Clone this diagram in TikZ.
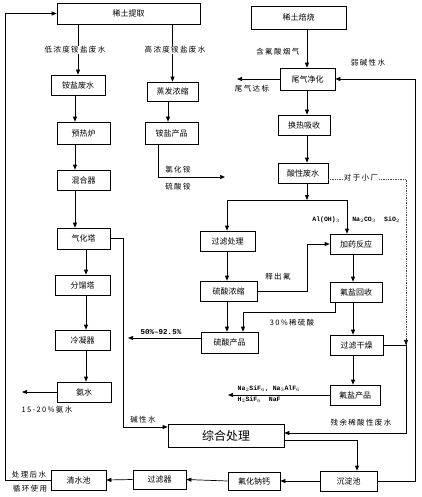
\documentclass[tikz,border=0pt]{standalone}
\usepackage{fontspec}
\newfontfamily\cjk{Noto Sans CJK SC}
\newfontfamily\cjksp[LetterSpace=18]{Noto Sans CJK SC}
\newfontfamily\mono{Liberation Mono}
\usetikzlibrary{arrows.meta}
\begin{document}
\begin{tikzpicture}[x=1pt,y=-1pt,
  pbox/.style 2 args={draw,line width=0.7pt,inner sep=0pt,minimum width=#1pt,minimum height=#2pt,font=\cjk\fontsize{8}{9}\selectfont},
  lab/.style={font=\cjksp\fontsize{7.5}{9}\selectfont,inner sep=0.5pt},
  chem/.style={font=\mono\bfseries\fontsize{6.5}{7}\selectfont,inner sep=0.5pt},
  arr/.style={line width=0.7pt,-{Triangle[length=5pt,width=4pt]}},
  ln/.style={line width=0.7pt},
  dot/.style={line width=0.7pt,densely dotted,black!70}]
\useasboundingbox (0,0) rectangle (421,497);
% nodes
\node[pbox={143}{21}] (tq) at (128.5,13.5) {稀土提取};
\node[pbox={95}{23}] (bs) at (298.5,17.5) {稀土焙烧};
\node[pbox={54}{20}] (afs) at (78,85) {铵盐废水};
\node[pbox={51}{19}] (zf) at (172.5,91.5) {蒸发浓缩};
\node[pbox={53}{22}] (yr) at (83.5,133) {预热炉};
\node[pbox={53}{22}] (acp) at (171.5,133) {铵盐产品};
\node[pbox={53}{20}] (hh) at (83.5,180) {混合器};
\node[pbox={53}{21}] (qh) at (83.5,238.5) {气化塔};
\node[pbox={55}{20}] (fl) at (82.5,285) {分馏塔};
\node[pbox={55}{20}] (lnq) at (82.5,340) {冷凝器};
\node[pbox={54}{20}] (as) at (84,392) {氨水};
\node[pbox={55}{22}] (wq) at (307.5,79) {尾气净化};
\node[pbox={52}{20}] (hr) at (304,125) {换热吸收};
\node[pbox={50}{20}] (sx) at (303,173) {酸性废水};
\node[pbox={55}{20}] (gl) at (227.5,241) {过滤处理};
\node[pbox={52}{20}] (jy) at (356,244) {加药反应};
\node[pbox={57}{20}] (ls) at (228.5,291) {硫酸浓缩};
\node[pbox={52}{20}] (fh) at (356,292) {氟盐回收};
\node[pbox={57}{21}] (lc) at (229.5,342.5) {硫酸产品};
\node[pbox={53}{20}] (gz) at (356.5,345) {过滤干燥};
\node[pbox={50}{20}] (fc) at (355,395) {氟盐产品};
\node[pbox={116}{23},font=\cjk\fontsize{12}{13}\selectfont] (zh) at (226,435.5) {综合处理};
\node[pbox={57}{20}] (cd) at (348.5,481) {沉淀池};
\node[pbox={52}{18}] (th) at (254,481) {氟化钠钙};
\node[pbox={53}{19}] (glq) at (159.5,479.5) {过滤器};
\node[pbox={55}{20}] (qs) at (78.5,480) {清水池};
% helper coordinates
\coordinate (xL1) at (75,0);
\coordinate (xL2) at (86,0);
\coordinate (xA) at (123,0);
\coordinate (xM) at (168,0);
\coordinate (xN) at (158,0);
\coordinate (xR) at (307,0);
\coordinate (xB1) at (227,0);
\coordinate (xB2) at (347,0);
\coordinate (xJ) at (353,0);
\coordinate (xF) at (335,0);
\coordinate (xS) at (243,0);
\coordinate (xD) at (406,0);
\coordinate (xO) at (415,0);
\coordinate (xC) at (357,0);
\coordinate (xE) at (5,0);
\coordinate (yK) at (0,312);
\coordinate (rw) at (0,433);
\coordinate (zo) at (0,440);
\coordinate (jn) at (307,200);
\coordinate (asE) at (22,392);
\coordinate (acpE) at (225,177);
\coordinate (wqE) at (237,79);
\coordinate (lcE) at (128,338);
\coordinate (fcE) at (228,395);
\coordinate (zhin) at ([yshift=8.5pt]zh.west);
\coordinate (sxE) at ([yshift=-6pt]sx.east);
% left part
\draw[arr] (tq.south -| afs.north) -- (afs.north);
\draw[arr] (tq.south -| zf.north) -- (zf.north);
\node[lab,fill=white] (l1) at (75,50) {低浓度铵盐废水};
\node[lab,fill=white] (l2) at (175,50) {高浓度铵盐废水};
\draw[arr] (afs.south -| xL1) -- (yr.north -| xL1);
\draw[arr] (yr.south -| xL1) -- (hh.north -| xL1);
\draw[arr] (hh.south -| xL1) -- (qh.north -| xL1);
\draw[arr] (qh.south -| xL2) -- (fl.north -| xL2);
\draw[arr] (fl.south -| xL2) -- (lnq.north -| xL2);
\draw[arr] (lnq.south -| xL2) -- (as.north -| xL2);
\draw[arr] (as.west) -- (asE);
\node[lab] (l15) at (47,410) {15-20\%氨水};
\draw[arr] (qh.east) -- (qh.east -| xA) -- (xA |- zhin) -- (zhin);
\node[lab] (ljx) at (143,420) {碱性水};
\draw[arr] (zf.south -| xM) -- (acp.north -| xM);
\draw[arr] (acp.south -| xN) -- (xN |- acpE) -- (acpE);
\node[lab] (lnh) at (178,170) {氯化铵};
\node[lab] (lsa) at (178,187) {硫酸铵};
% right part
\draw[arr] (bs.south -| xR) -- (wq.north -| xR);
\node[lab,anchor=east] (lhf) at (300,52) {含氟酸烟气};
\draw[arr] (wq.west) -- (wqE);
\node[lab] (lwd) at (252,89) {尾气达标};
\draw[arr] (wq.south -| xR) -- (hr.north -| xR);
\draw[arr] (hr.south -| xR) -- (sx.north -| xR);
\draw[arr] (sx.south -| xR) -- (jn);
\draw[ln] (jn -| xB1) -- (jn -| xB2);
\draw[arr] (jn -| xB1) -- (gl.north -| xB1);
\draw[arr] (jn -| xB2) -- (jy.north -| xB2);
\node[chem] (c1) at (326,220) {Al(OH)$_3$};
\node[chem] (c2) at (364,220) {Na$_2$CO$_3$};
\node[chem] (c3) at (392,220) {SiO$_2$};
\draw[dot] (sxE) -- (sxE -| xD) -- (xD |- gz.east);
\draw[arr] ([yshift=6pt]xD |- gz.east) -- (xD |- gz.east);
\node[lab,fill=white] (ldx) at (361,178) {对于小厂};
\draw[arr] (gl.south -| xB1) -- (ls.north -| xB1);
\draw[arr] (ls.east) -- (ls.east -| xR) -- (xR |- jy.west) -- (jy.west);
\node[lab] (lsf) at (278,277) {释出氟};
\draw[arr] (jy.south -| xJ) -- (fh.north -| xJ);
\draw[arr] (fh.south -| xF) -- (xF |- yK) -- (xS |- yK) -- (lc.north -| xS);
\node[lab] (l30) at (292,323) {30\%稀硫酸};
\draw[arr] (ls.south -| xB1) -- (lc.north -| xB1);
\draw[arr] (lcE -| lc.west) -- (lcE);
\node[chem,font=\mono\bfseries\fontsize{7.5}{8}\selectfont] (l50) at (161,332) {50\%–92.5\%};
\draw[arr] (fh.south -| xJ) -- (gz.north -| xJ);
\draw[arr] (gz.east) -- (gz.east -| xD) -- (xD |- rw) -- (rw -| zh.east);
\node[lab] (lcy) at (361,423) {残余稀酸性废水};
\draw[arr] (gz.south -| xJ) -- (fc.north -| xJ);
\draw[arr] (fc.west) -- (fc.west -| fcE);
\node[chem,anchor=west] (c4) at (237,389) {Na$_2$SiF$_6$,\ Na$_3$AlF$_6$};
\node[chem,anchor=west] (c5) at (237,400) {H$_2$SiF$_6$\ \ NaF};
\draw[arr] (zo -| zh.east) -- (zo -| xC) -- (cd.north -| xC);
\draw[arr] (cd.east) -- (cd.east -| xO) -- (xO |- wq.east) -- (wq.east);
\node[lab] (lrj) at (368,63) {弱碱性水};
\draw[arr] (cd.west) -- (th.east);
\draw[arr] (th.west) -- (glq.east);
\draw[arr] (glq.west) -- (qs.east);
\draw[arr] (qs.west) -- (qs.west -| xE) -- (xE |- tq.west) -- (tq.west);
\node[lab] (lcl1) at (29,475) {处理后水};
\node[lab] (lcl2) at (30,489) {循环使用};
\end{tikzpicture}
\end{document}
